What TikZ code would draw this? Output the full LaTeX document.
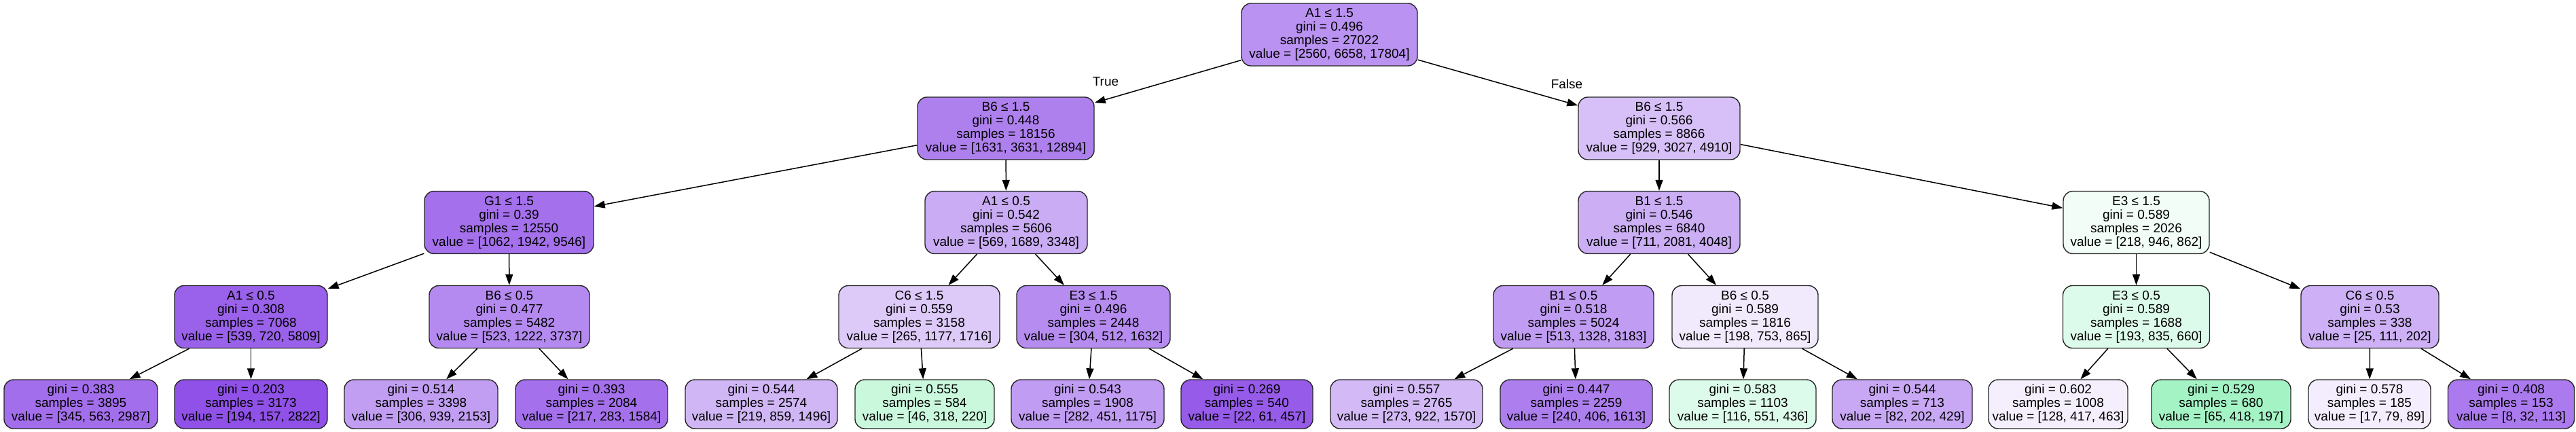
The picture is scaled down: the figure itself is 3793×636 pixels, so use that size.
\documentclass[tikz,border=0pt]{standalone}
\usepackage{fontspec}
\setmainfont{Liberation Sans}
\usetikzlibrary{arrows.meta}
\definecolor{cP}{RGB}{129,57,229}
\definecolor{cG}{RGB}{57,229,129}
\begin{document}
\begin{tikzpicture}[x=1pt,y=-1pt,
  box/.style={draw=black!85, line width=1.4pt, rounded corners=14pt, minimum height=92pt,
    inner sep=0pt, align=center, font=\fontsize{19}{20}\selectfont},
  leaf/.style={box, minimum height=72pt},
  edge/.style={line width=1.5pt, -{Triangle[length=16pt,width=11pt]}},
  elabel/.style={font=\fontsize{19}{20}\selectfont, inner sep=0pt}]
\useasboundingbox (0,0) rectangle (3793,636);
% level 0
\node[box, minimum width=259pt, fill=cP!55!white] (n0) at (1957.5,51) {A1 ≤ 1.5\\gini = 0.496\\samples = 27022\\value = [2560, 6658, 17804]};
% level 1
\node[box, minimum width=260pt, fill=cP!64!white] (n1) at (1481,189) {B6 ≤ 1.5\\gini = 0.448\\samples = 18156\\value = [1631, 3631, 12894]};
\node[box, minimum width=238pt, fill=cP!32!white] (n2) at (2443,189) {B6 ≤ 1.5\\gini = 0.566\\samples = 8866\\value = [929, 3027, 4910]};
% level 2
\node[box, minimum width=249pt, fill=cP!72!white] (n3) at (749.5,327.5) {G1 ≤ 1.5\\gini = 0.39\\samples = 12550\\value = [1062, 1942, 9546]};
\node[box, minimum width=239pt, fill=cP!42!white] (n4) at (1481.5,327.5) {A1 ≤ 0.5\\gini = 0.542\\samples = 5606\\value = [569, 1689, 3348]};
\node[box, minimum width=238pt, fill=cP!41!white] (n5) at (2443,327.5) {B1 ≤ 1.5\\gini = 0.546\\samples = 6840\\value = [711, 2081, 4048]};
\node[box, minimum width=215pt, fill=cG!7!white] (n6) at (3145.5,327.5) {E3 ≤ 1.5\\gini = 0.589\\samples = 2026\\value = [218, 946, 862]};
% level 3
\node[box, minimum width=225pt, fill=cP!80!white] (n7) at (369.5,466.5) {A1 ≤ 0.5\\gini = 0.308\\samples = 7068\\value = [539, 720, 5809]};
\node[box, minimum width=236pt, fill=cP!59!white] (n8) at (750,466.5) {B6 ≤ 0.5\\gini = 0.477\\samples = 5482\\value = [523, 1222, 3737]};
\node[box, minimum width=237pt, fill=cP!27!white] (n9) at (1353.5,466.5) {C6 ≤ 1.5\\gini = 0.559\\samples = 3158\\value = [265, 1177, 1716]};
\node[box, minimum width=226pt, fill=cP!58!white] (n10) at (1610,466.5) {E3 ≤ 1.5\\gini = 0.496\\samples = 2448\\value = [304, 512, 1632]};
\node[box, minimum width=236pt, fill=cP!50!white] (n11) at (2317,466.5) {B1 ≤ 0.5\\gini = 0.518\\samples = 5024\\value = [513, 1328, 3183]};
\node[box, minimum width=215pt, fill=cP!11!white] (n12) at (2569.5,466.5) {B6 ≤ 0.5\\gini = 0.589\\samples = 1816\\value = [198, 753, 865]};
\node[box, minimum width=216pt, fill=cG!17!white] (n13) at (3145.5,466.5) {E3 ≤ 0.5\\gini = 0.589\\samples = 1688\\value = [193, 835, 660]};
\node[box, minimum width=203pt, fill=cP!40!white] (n14) at (3489.5,466.5) {C6 ≤ 0.5\\gini = 0.53\\samples = 338\\value = [25, 111, 202]};
% leaves
\node[leaf, minimum width=226pt, fill=cP!73!white] (l1) at (119,595) {gini = 0.383\\samples = 3895\\value = [345, 563, 2987]};
\node[leaf, minimum width=225pt, fill=cP!88!white] (l2) at (369.5,595) {gini = 0.203\\samples = 3173\\value = [194, 157, 2822]};
\node[leaf, minimum width=226pt, fill=cP!49!white] (l3) at (620,595) {gini = 0.514\\samples = 3398\\value = [306, 939, 2153]};
\node[leaf, minimum width=224pt, fill=cP!72!white] (l4) at (871,595) {gini = 0.393\\samples = 2084\\value = [217, 283, 1584]};
\node[leaf, minimum width=224pt, fill=cP!37!white] (l5) at (1121,595) {gini = 0.544\\samples = 2574\\value = [219, 859, 1496]};
\node[leaf, minimum width=205pt, fill=cG!27!white] (l6) at (1361.5,595) {gini = 0.555\\samples = 584\\value = [46, 318, 220]};
\node[leaf, minimum width=225pt, fill=cP!50!white] (l7) at (1601.5,595) {gini = 0.543\\samples = 1908\\value = [282, 451, 1175]};
\node[leaf, minimum width=194pt, fill=cP!83!white] (l8) at (1836,595) {gini = 0.269\\samples = 540\\value = [22, 61, 457]};
\node[leaf, minimum width=224pt, fill=cP!35!white] (l9) at (2071,595) {gini = 0.557\\samples = 2765\\value = [273, 922, 1570]};
\node[leaf, minimum width=224pt, fill=cP!65!white] (l10) at (2321,595) {gini = 0.447\\samples = 2259\\value = [240, 406, 1613]};
\node[leaf, minimum width=216pt, fill=cG!17!white] (l11) at (2566,595) {gini = 0.583\\samples = 1103\\value = [116, 551, 436]};
\node[leaf, minimum width=206pt, fill=cP!44!white] (l12) at (2801,595) {gini = 0.544\\samples = 713\\value = [82, 202, 429]};
\node[leaf, minimum width=205pt, fill=cP!8!white] (l13) at (3030.5,595) {gini = 0.602\\samples = 1008\\value = [128, 417, 463]};
\node[leaf, minimum width=205pt, fill=cG!46!white] (l14) at (3270.5,595) {gini = 0.529\\samples = 680\\value = [65, 418, 197]};
\node[leaf, minimum width=180pt, fill=cP!9!white] (l15) at (3489,595) {gini = 0.578\\samples = 185\\value = [17, 79, 89]};
\node[leaf, minimum width=186pt, fill=cP!67!white] (l16) at (3697.5,595) {gini = 0.408\\samples = 153\\value = [8, 32, 113]};
% edges
\draw[edge] (n0) -- (n1);
\draw[edge] (n0) -- (n2);
\draw[edge] (n1) -- (n3);
\draw[edge] (n1) -- (n4);
\draw[edge] (n2) -- (n5);
\draw[edge] (n2) -- (n6);
\draw[edge] (n3) -- (n7);
\draw[edge] (n3) -- (n8);
\draw[edge] (n4) -- (n9);
\draw[edge] (n4) -- (n10);
\draw[edge] (n5) -- (n11);
\draw[edge] (n5) -- (n12);
\draw[edge] (n6) -- (n13);
\draw[edge] (n6) -- (n14);
\draw[edge] (n7) -- (l1);
\draw[edge] (n7) -- (l2);
\draw[edge] (n8) -- (l3);
\draw[edge] (n8) -- (l4);
\draw[edge] (n9) -- (l5);
\draw[edge] (n9) -- (l6);
\draw[edge] (n10) -- (l7);
\draw[edge] (n10) -- (l8);
\draw[edge] (n11) -- (l9);
\draw[edge] (n11) -- (l10);
\draw[edge] (n12) -- (l11);
\draw[edge] (n12) -- (l12);
\draw[edge] (n13) -- (l13);
\draw[edge] (n13) -- (l14);
\draw[edge] (n14) -- (l15);
\draw[edge] (n14) -- (l16);
% edge labels
\node[elabel] (tTrue) at (1628,120) {True};
\node[elabel] (tFalse) at (2307,124) {False};
\end{tikzpicture}
\end{document}
